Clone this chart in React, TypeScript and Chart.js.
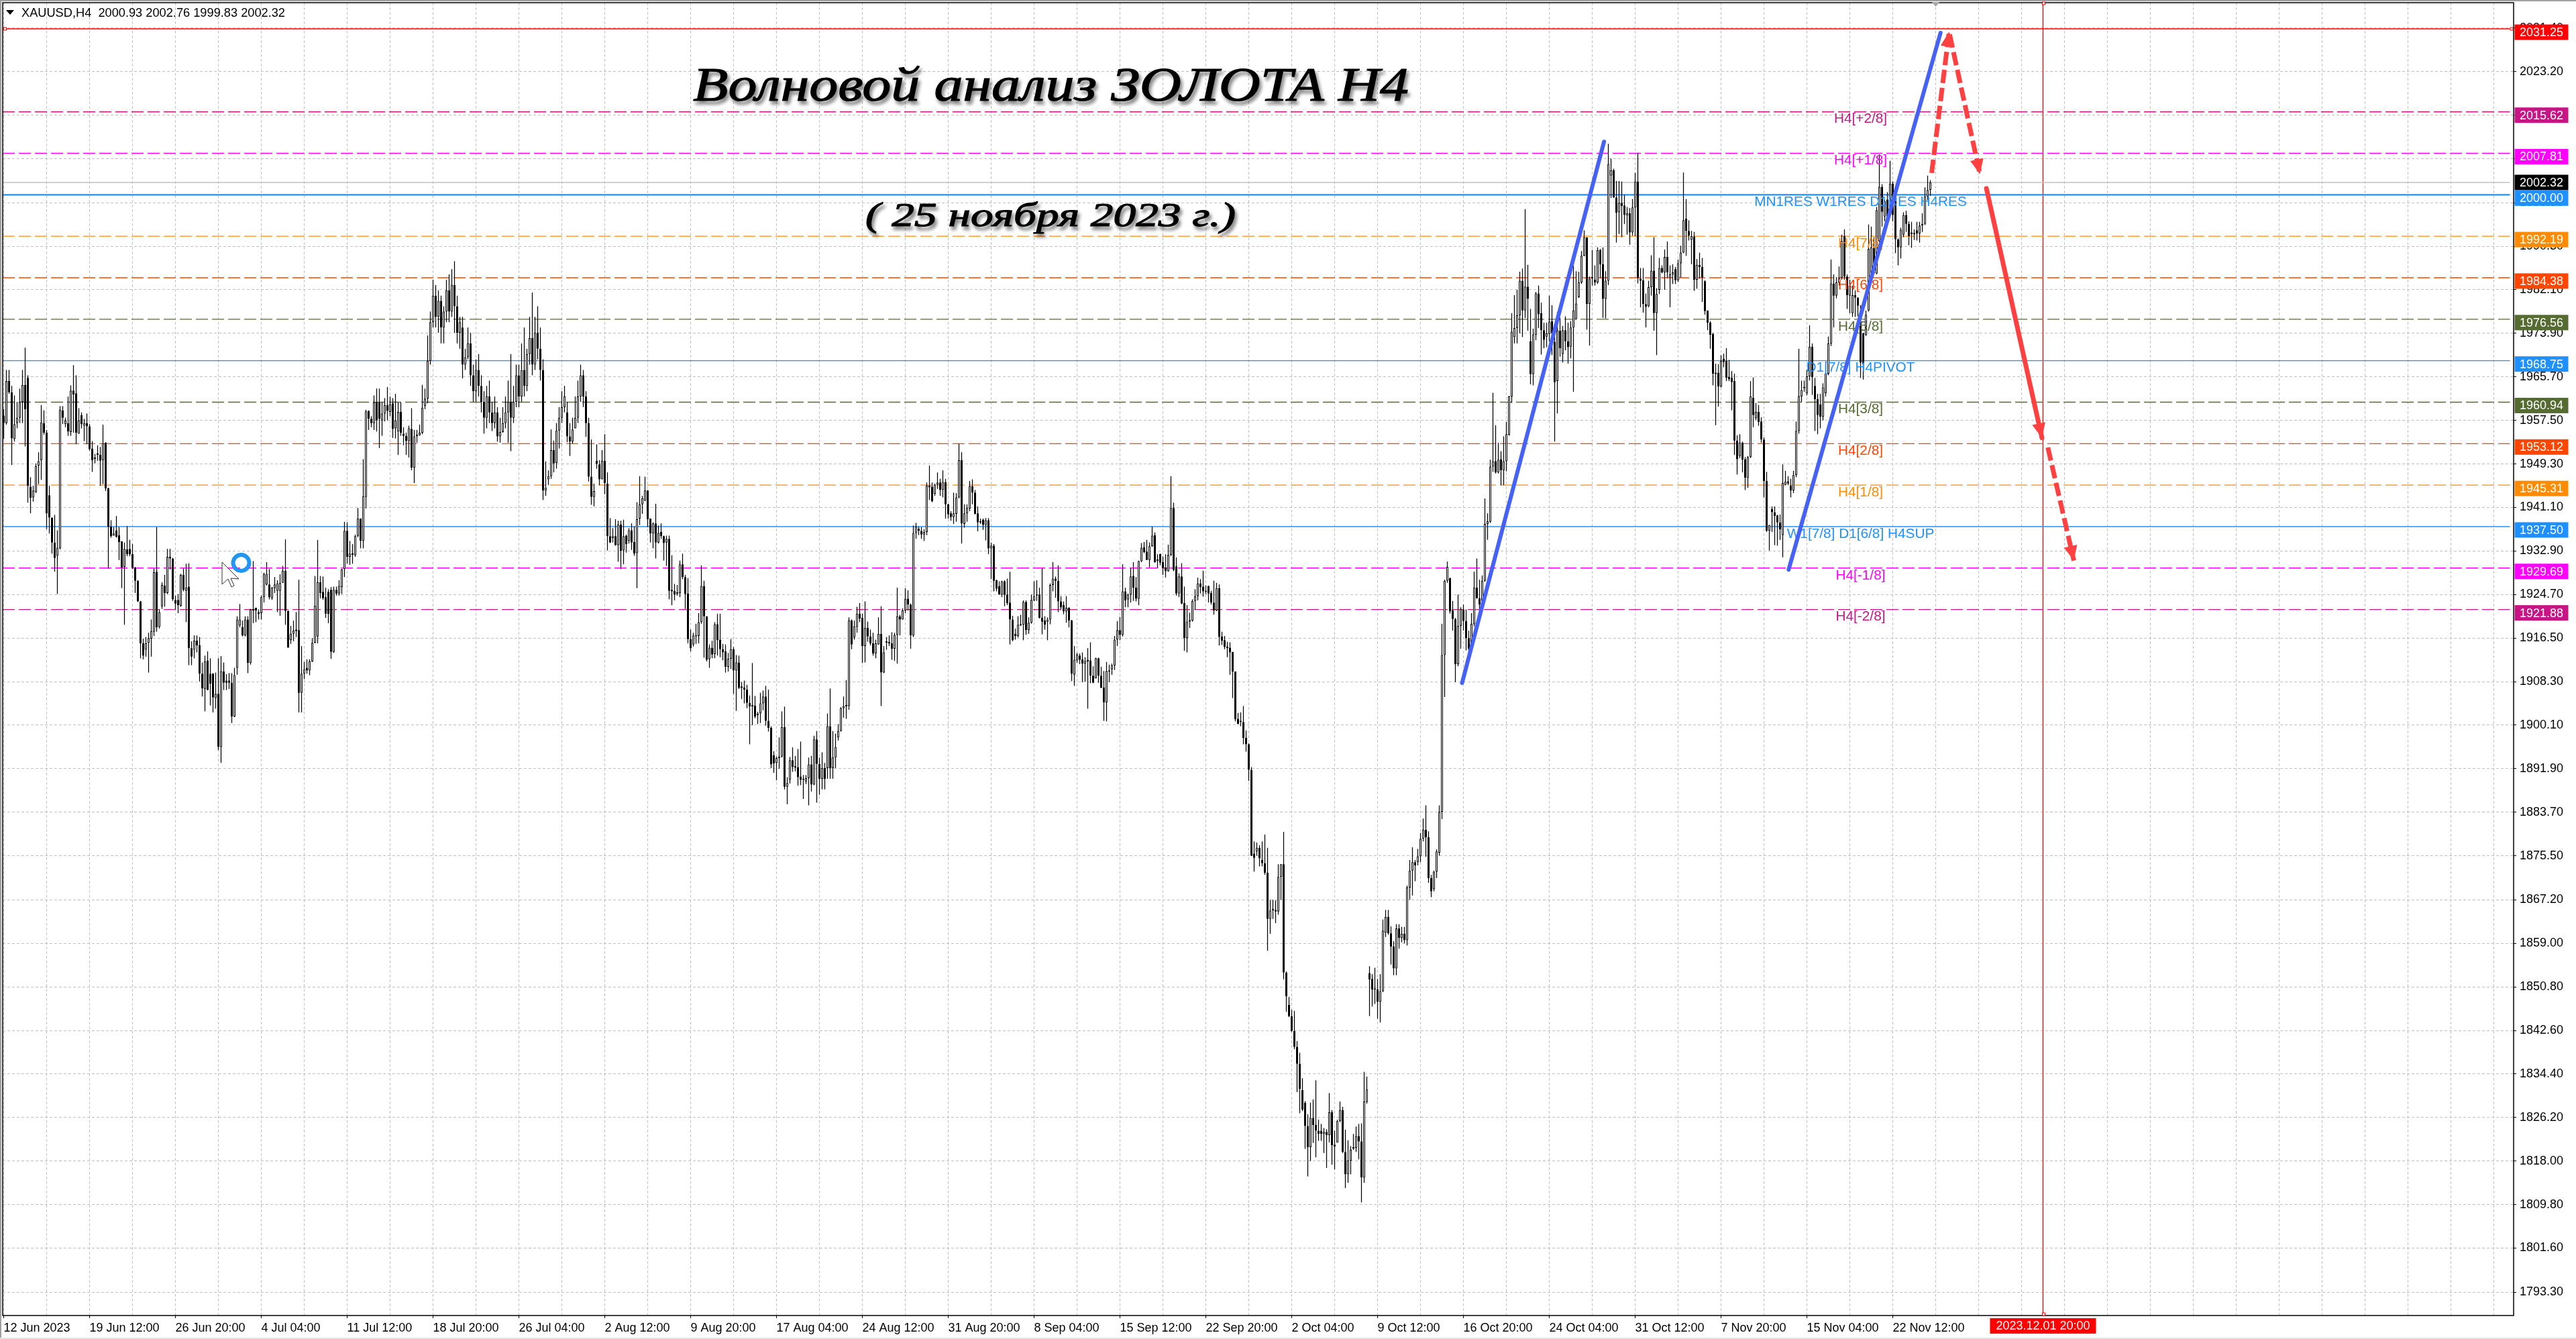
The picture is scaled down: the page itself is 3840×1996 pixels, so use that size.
import React, { useEffect, useRef } from "react";
import { Chart, registerables } from "chart.js";

Chart.register(...registerables);

// every row: [open, close, high, low]; one list per 32 H4 bars, named after the axis date that starts it
const bars12Jun = [[1958.4,1957,1959.6,1954],[1957,1964.9,1967,1956.7],[1964.9,1962.8,1967,1962.5],[1962.8,1954.1,1964,1949.1],[1954,1956.8,1962.2,1953.5],[1957,1958,1961,1956],[1958,1961,1963.5,1957],[1961,1964.2,1967,1957],[1964.2,1959.6,1971.2,1952.6],[1965.5,1945.2,1966,1942],[1945,1942.9,1946.8,1940],[1943,1944.3,1945.2,1942.2],[1944,1948.9,1949.4,1943.8],[1949,1949.8,1951.5,1945.5],[1950,1957.1,1960.4,1946.3],[1957,1955.2,1959.4,1954.8],[1955.2,1940,1955.7,1937],[1943.4,1939.2,1945.2,1936.2],[1939.2,1934.5,1939.2,1932.4],[1934.5,1931.6,1939.7,1929],[1932,1933.5,1936.8,1924.8],[1933.4,1959.5,1960.2,1933.2],[1959.4,1958,1960.2,1956.8],[1956.8,1957.5,1958,1956.2],[1957,1955.4,1962,1954.6],[1955.3,1963.1,1964.1,1954.6],[1963.1,1962.4,1967.9,1955.2],[1962.6,1955.2,1966,1953],[1955,1957.5,1959.8,1955],[1958.5,1956.8,1959,1956],[1956.5,1957,1957.8,1953.6],[1957,1956.4,1958.8,1953]];
const bars19Jun = [[1956.4,1952.1,1956.8,1951.8],[1952.2,1950,1953.6,1947.8],[1950.2,1950.5,1951.2,1949.4],[1951.3,1951,1952.8,1949.9],[1951,1949.9,1952.5,1945.2],[1950,1953.2,1956.7,1945.5],[1953.3,1944.7,1953.4,1944.2],[1944.7,1937.5,1944.8,1929.6],[1937.5,1935.7,1938.7,1935.4],[1935.8,1936.2,1937.4,1935.8],[1936.8,1935.6,1939.5,1935.4],[1935.9,1934.6,1937.4,1931.2],[1934.7,1929.8,1934.7,1925.9],[1929.9,1933.3,1934.5,1919],[1933.2,1932.3,1937.6,1931.9],[1933.3,1932.3,1935,1931.9],[1932.3,1929.8,1934.2,1929.5],[1929.8,1927.3,1929.9,1925],[1927.3,1923.4,1927.4,1923.3],[1923.4,1915.5,1923.5,1912.7],[1915.5,1913.2,1916.4,1912.5],[1914.3,1915.5,1916.7,1913],[1915.6,1916.5,1917.5,1910],[1916.4,1917.8,1920,1913],[1917.7,1928.9,1929.6,1916.9],[1929,1918.5,1937.4,1917.7],[1918.6,1921.4,1921.9,1918.3],[1922.5,1926.5,1927,1922],[1926.4,1925,1928.4,1922.4],[1925,1931.8,1933.3,1924.8],[1931.8,1931.5,1933.3,1929.4],[1931.5,1923.8,1931.6,1923.5]];
const bars26Jun = [[1923.7,1923,1924.5,1921.9],[1923.7,1922.7,1924.8,1921.2],[1922.6,1928.4,1928.6,1922.4],[1928.4,1925.6,1929.6,1925.3],[1925.4,1926,1930.5,1919.5],[1926.2,1914.6,1930.6,1911.4],[1914.6,1913,1915.9,1911.4],[1914.3,1916,1917,1912.7],[1916,1915.1,1917,1913.8],[1915.2,1909.8,1916.7,1908.3],[1909.8,1907,1911.9,1905.5],[1906.9,1912.1,1913.2,1902.7],[1912.3,1906.7,1914,1906.7],[1909.8,1907.9,1912.7,1903.8],[1909.8,1905.3,1909.9,1902.5],[1905.2,1906,1910,1903.2],[1906,1896,1912.7,1895.4],[1896,1910.2,1913.1,1893],[1910.2,1908.1,1911.9,1906.7],[1908.5,1908.1,1909.7,1906.7],[1908.5,1908.1,1909.9,1906.9],[1908.1,1901.7,1909.9,1900.5],[1901.7,1909.5,1910.9,1901.6],[1910.9,1920,1920.6,1909.6],[1918.9,1920,1922.9,1918.5],[1918.6,1917,1919.8,1916.8],[1917,1920,1920.6,1916.8],[1920,1911.8,1920.6,1909.9],[1911.8,1921.9,1922,1911.5],[1921.9,1921.8,1931,1919.3],[1922.2,1921.7,1922.2,1919.5],[1921.4,1921,1921.9,1920]];
const bars4Jul = [[1921.2,1924.2,1924.5,1920],[1924.2,1928.6,1928.8,1923.2],[1926.6,1928.6,1930.8,1926.4],[1926.6,1924.2,1929.5,1923.8],[1924,1926,1926.1,1923.7],[1925.9,1926.6,1928,1925],[1925.4,1926.8,1927.4,1921.4],[1925.4,1926.9,1928.5,1920.7],[1926.9,1929.2,1930.1,1926.9],[1929.2,1921.6,1935.1,1919],[1921.6,1914.7,1921.7,1914.7],[1916.1,1917.3,1918.8,1915.4],[1917.3,1917.9,1919.8,1915.9],[1918,1917.9,1921.4,1916.7],[1918,1906.2,1927.5,1902.5],[1906.2,1909.8,1915,1902.5],[1909.8,1910.6,1912,1908.8],[1910.9,1910.4,1912.5,1909.8],[1910.4,1912.1,1912.5,1909.5],[1912.1,1915.6,1916.5,1912],[1915.6,1922.6,1928.2,1915.5],[1916.8,1927,1935,1915.5],[1927,1925,1928.2,1924],[1925.2,1924,1928.1,1923.7],[1924.2,1921.1,1926,1920.3],[1925.2,1921,1925.7,1919.3],[1925.6,1913.9,1926.1,1912.6],[1913.9,1925.6,1926.2,1913.7],[1925.6,1924.9,1926.2,1924.5],[1924.9,1926.3,1927.4,1924.5],[1926.1,1929.4,1929.5,1924.8],[1929.5,1936.7,1938.4,1928]];
const bars11Jul = [[1936.7,1931.8,1938.3,1930.5],[1931.8,1932.4,1934.8,1930.3],[1932.4,1932.3,1934.2,1930.5],[1932.1,1935.7,1936,1931.8],[1935.7,1939,1941,1935.5],[1939,1934.8,1939,1933.4],[1934.8,1943.2,1950.2,1933.4],[1943.1,1959.2,1959.5,1940.9],[1959.3,1957.8,1959.4,1955.7],[1957.8,1957,1958.3,1956.2],[1957,1960.9,1962.2,1955.7],[1960.9,1957.5,1963.5,1955.4],[1960.9,1957.8,1963.5,1952.3],[1957.5,1958.8,1960.9,1954.6],[1958.8,1960.4,1961.7,1957.3],[1960.4,1959.3,1963.8,1957.5],[1959.1,1960.5,1962,1958.3],[1960.7,1955.9,1961.7,1954.2],[1956,1957.5,1962.5,1954.1],[1955.4,1959.1,1960.9,1951],[1959.1,1955.2,1960.9,1954.6],[1955,1954.6,1956.2,1952.8],[1954.6,1953.6,1955.2,1951],[1953.6,1956,1956.5,1950.5],[1955.9,1948.6,1959.8,1948.1],[1948.6,1954.5,1955.7,1945.7],[1954.5,1954.8,1955.7,1953.3],[1954.7,1955.2,1956.7,1954.6],[1955.2,1959.9,1964.2,1954.9],[1960.2,1961.6,1963.5,1959.6],[1961.6,1968.7,1973.5,1960.7],[1968.7,1976,1978,1968]];
const bars18Jul = [[1976,1981,1984,1975],[1981,1977,1983,1975],[1977,1980,1982,1974],[1980,1975,1981,1972],[1975,1978,1979,1972],[1978,1982,1984,1976],[1982,1978,1985,1976],[1978,1983,1986,1977],[1983,1979,1987.5,1974],[1979,1974,1981,1972],[1974,1976,1977,1971],[1975,1968,1977,1965.4],[1968,1969.4,1971,1967],[1969.4,1972,1975,1969],[1972,1966,1974,1964],[1966,1963,1968,1961],[1963,1967,1969,1961],[1967,1964,1970,1962],[1964,1961,1966,1959],[1961,1958,1963,1955],[1958,1962,1964,1956],[1962,1959,1965,1957],[1959,1957,1961,1955.5],[1957,1959,1962,1956],[1959,1954.5,1960,1953.5],[1954.5,1955.3,1958,1953.3],[1955.3,1957,1960,1955.2],[1957,1959,1962,1956],[1959,1961,1965,1953.3],[1961,1958,1970,1951.7],[1958,1961,1964,1957],[1961,1966,1968,1960]];
const bars26Jul = [[1966,1962,1968,1960],[1962,1967,1972,1961],[1967,1964,1975,1962],[1964,1970,1971,1963],[1970,1973,1977,1968],[1973,1968,1981.6,1966],[1968,1974,1977,1967],[1974,1971,1979,1969],[1971,1967,1975,1965],[1967,1944.3,1969,1942.5],[1944.3,1944.8,1949.8,1943.3],[1946.4,1947,1948.1,1945.3],[1947,1951.9,1955.8,1946.5],[1951.9,1949.4,1953.7,1947.7],[1949.5,1955.6,1957,1948.4],[1955.6,1958,1960,1952.2],[1958,1960,1963,1957],[1960,1962,1964,1959],[1959,1954.5,1961,1953.4],[1954.5,1953.5,1957,1950.8],[1953.5,1955.8,1958,1953.1],[1956,1958,1962,1956],[1958,1962,1965,1957],[1962,1966,1968,1961],[1966,1962,1967,1960],[1962,1957,1963,1954.4],[1957,1946.9,1958,1946],[1946.9,1943.1,1953.9,1941.6],[1943.1,1944.2,1945.6,1941.3],[1949.9,1949.3,1953,1948.4],[1949.2,1946.4,1950,1945.3],[1946.4,1949.9,1951.9,1946.4]];
const bars2Aug = [[1949.9,1945.7,1954.9,1943.6],[1945.6,1935.7,1947.7,1933],[1935.7,1934.5,1939.1,1934.4],[1935.3,1935.7,1937.2,1934.5],[1935.7,1934,1938.9,1933.9],[1934,1937.9,1938.6,1930.9],[1937.9,1932.9,1938.6,1929.5],[1933,1935.7,1938.8,1930.4],[1935.8,1934.2,1936,1932.6],[1934.8,1936.8,1937.2,1934.3],[1936.8,1934.5,1938.1,1933.1],[1934.6,1932.4,1937.5,1932],[1932.5,1938.9,1942.1,1925.9],[1939,1941.7,1947,1937.8],[1941.7,1942.8,1943.3,1939.9],[1942.4,1944.3,1946.9,1942.3],[1944.3,1938.9,1944.4,1937.4],[1939,1936.2,1939,1934.5],[1936.2,1938.1,1938.3,1933.4],[1938.1,1934.5,1941.8,1931.5],[1934.5,1936.3,1937.7,1934.3],[1936.5,1935.7,1938.1,1935.2],[1935.7,1934.4,1935.8,1931.1],[1934.5,1935.2,1935.8,1930.1],[1935.2,1925.4,1935.8,1923.8],[1925.5,1925.4,1932.1,1922.7],[1925.4,1924.7,1926.7,1923.6],[1924.9,1925,1926.5,1924.5],[1925,1930.4,1931.1,1924.2],[1930.4,1928,1932.4,1927.6],[1928,1924.8,1928.4,1922],[1924.9,1916.3,1927.8,1915.5]];
const bars9Aug = [[1916.3,1914.6,1918.1,1914],[1915.3,1917,1917.5,1914.9],[1917,1916.8,1919.2,1915.4],[1916.9,1919.5,1921.2,1915.5],[1919.5,1926.3,1930.2,1919.2],[1926.3,1920.6,1927.3,1912.8],[1920.6,1912.4,1920.6,1912.1],[1912.5,1914.7,1915.3,1910.9],[1914.7,1913.4,1916,1912.7],[1913.5,1919.1,1919.5,1912.7],[1919.1,1916.1,1921.1,1913.2],[1916.2,1914.4,1921.1,1912.9],[1914.4,1913.8,1915.4,1912.3],[1914,1911.1,1915.3,1910],[1911.1,1912.6,1913.7,1910.2],[1912.6,1914.4,1916.3,1910.7],[1914.4,1910.4,1914.8,1906],[1910.4,1911.9,1913.3,1902.8],[1911.9,1907.1,1913.2,1906.9],[1907.3,1907.2,1908.2,1905],[1907.2,1906.8,1908.5,1904.2],[1906.8,1904.3,1907.7,1903.3],[1904.3,1903.6,1905.7,1896.5],[1903.6,1903.9,1911.8,1900.1],[1903.8,1901.7,1905.6,1901.4],[1902,1902.3,1902.6,1900.3],[1902.3,1904.2,1906.2,1900.5],[1904.2,1905.5,1906.6,1902.9],[1905.5,1900.9,1907.5,1900],[1900.9,1899.6,1906.8,1898.9],[1899.6,1892.7,1899.9,1892],[1894.4,1892.9,1895.2,1891.1]];
const bars17Aug = [[1893,1893.9,1894.2,1889.7],[1893.9,1894.2,1897.8,1891.9],[1894.2,1899.7,1902.7,1894],[1899.7,1888.5,1903.6,1888],[1888.5,1889.2,1890.3,1885.2],[1889.8,1893.5,1894.1,1889.1],[1893.5,1892.2,1895.9,1891.3],[1892.4,1892.1,1894.3,1891.4],[1892.2,1890.3,1895.6,1888.7],[1890.4,1889.8,1897,1888.8],[1889.9,1889.9,1890.7,1886.2],[1889.5,1890.1,1890.7,1889],[1890.1,1892.7,1894,1885],[1892.7,1888.9,1894.3,1887.6],[1888.9,1897.4,1898.1,1888.8],[1897.4,1892.8,1899,1885.5],[1892.8,1890,1894,1887],[1890,1892,1895,1888],[1892,1890,1893,1888],[1892,1899.9,1902.3,1890],[1899.9,1892,1907,1890],[1892,1894,1899,1890],[1894,1896,1898.5,1892],[1897.8,1899,1900.3,1897.2],[1899,1903.3,1903.5,1898.9],[1903.3,1903.7,1905.5,1901.5],[1903.7,1903.8,1908.6,1901.3],[1903.7,1919.8,1920.4,1903],[1919.8,1915.3,1920,1914.4],[1916.6,1918.7,1919.8,1916.2],[1918.6,1921.1,1922.4,1917.5],[1921.1,1920.2,1923.1,1919.5]];
const bars24Aug = [[1920.3,1915,1921.1,1911.8],[1915,1918.4,1923.4,1911.9],[1918.4,1916.8,1919.6,1915.8],[1916.8,1915.5,1918.1,1915.1],[1915.5,1913.6,1917.5,1913.2],[1913.6,1915.5,1916.2,1912.7],[1915.3,1917.3,1920.4,1915.3],[1917.3,1910,1922.5,1903.7],[1910,1913.8,1915,1909.9],[1915.7,1915.8,1916.7,1914.3],[1915.8,1915.5,1917,1915],[1915.5,1914.5,1917.6,1912.4],[1914.5,1917.1,1917.5,1912.2],[1917.1,1920.6,1926,1911.7],[1920.6,1920,1920.9,1917],[1920,1921.7,1922.1,1920],[1921.7,1923.9,1925.9,1921.2],[1923.9,1922.8,1925.5,1921.7],[1922.8,1917,1923,1914.5],[1917,1936.3,1937.7,1916.7],[1936.3,1937.5,1938.2,1935.2],[1937.1,1936.7,1937.5,1935.9],[1936.7,1936,1937.4,1935.2],[1936,1936.5,1937,1934.8],[1936.5,1945.2,1945.8,1935.9],[1945.2,1944.9,1949,1942.5],[1945,1942.3,1945.8,1942.1],[1943.7,1945.4,1945.6,1943.3],[1945.4,1945.8,1947.7,1944.6],[1945.8,1944.4,1946.5,1943.3],[1944.4,1945.9,1948.1,1943],[1945.9,1941.7,1946.5,1939]];
const bars31Aug = [[1941.7,1939.8,1941.8,1939],[1940,1939.3,1940.4,1938.6],[1939.3,1940,1943.9,1938],[1939.9,1943,1943.8,1938.4],[1943,1950,1953.1,1942.8],[1950,1938.1,1951.5,1934.3],[1938,1940,1941.7,1937.3],[1940,1941,1941.7,1938.4],[1940.9,1945.1,1946.1,1940.4],[1945.1,1943.9,1946.4,1941.7],[1943.9,1939.9,1944.4,1939.8],[1940,1938.3,1941.3,1936.6],[1938.4,1938.4,1939,1938],[1938.8,1937.8,1939,1936.9],[1937.8,1938.7,1939.1,1934.9],[1938.7,1933.4,1939.1,1932.3],[1933.4,1933.9,1934.5,1927.6],[1933.9,1927.3,1934.2,1925.3],[1927.4,1925.8,1927.5,1925.3],[1926.3,1924.7,1927.2,1924.7],[1924.7,1927.2,1927.3,1924.2],[1927.2,1924.6,1927.4,1922.5],[1924.7,1923.1,1927.7,1922.7],[1923.2,1920,1929,1915.3],[1920,1916.1,1920.7,1915.9],[1917.3,1916.9,1918.3,1916.2],[1916.9,1919,1920.6,1916.6],[1919,1919,1920.9,1918.8],[1919,1923.3,1923.6,1916.1],[1923.3,1918,1923.6,1917.1],[1918,1919.4,1920.4,1917.3],[1919.4,1923.7,1924.7,1919.2]];
const bars8Sep = [[1923.6,1924.4,1927.2,1923.5],[1924.6,1924.6,1927.4,1923.5],[1924.7,1920.3,1926,1920.2],[1920.3,1919.6,1929.7,1917.2],[1919.8,1919,1920.6,1918.1],[1919.6,1920,1920.4,1916.1],[1920,1926.5,1926.8,1919.1],[1926.5,1927.7,1930.8,1925.3],[1927.7,1927.3,1928.1,1924.1],[1927.3,1923.4,1930.2,1921.4],[1923.4,1922.3,1924.4,1921.9],[1922.7,1921.5,1923.4,1921],[1921.5,1922.2,1924.4,1919.4],[1922.2,1919.8,1922.3,1918.5],[1919.8,1909.8,1919.9,1908.4],[1909.6,1912.4,1915,1907.5],[1912.3,1913.4,1913.7,1911.8],[1913.2,1912.4,1913.6,1911.6],[1912.5,1911.7,1913.8,1908.2],[1911.7,1912.2,1912.9,1908.3],[1912.3,1912.2,1914.6,1903.2],[1912.3,1909.4,1915.7,1908],[1909.4,1908.1,1911.2,1908],[1908.9,1912.7,1912.8,1908.9],[1912.7,1909.4,1912.8,1908.1],[1909.4,1907.1,1911.1,1907.1],[1907.2,1904.4,1910.3,1900.9],[1904.4,1910.3,1912,1900.8],[1910.3,1910.3,1911.5,1908.2],[1910.6,1911.4,1911.7,1909.6],[1911.3,1916.2,1916.9,1910.5],[1916.2,1918,1919.7,1915]];
const bars15Sep = [[1918,1917.1,1920.5,1916.1],[1917.1,1925.3,1930.4,1916.8],[1925.3,1923.6,1926,1922.3],[1923.8,1924.7,1924.9,1922.3],[1924.7,1928.1,1929.7,1923.2],[1928.2,1926,1930.8,1923.5],[1926,1923.9,1928,1923.4],[1923.9,1931,1931.1,1922.7],[1931,1933.5,1934.4,1930.8],[1933.6,1932.7,1934.6,1932.5],[1932.8,1931.2,1935,1931.2],[1931.2,1933.8,1934.5,1929.8],[1933.8,1935.8,1937.5,1933.7],[1935.9,1930.8,1936.4,1930.7],[1931,1931.3,1932.3,1929.7],[1932.3,1930.7,1932.4,1930.2],[1930.8,1929.7,1931.9,1928.4],[1929.8,1929.1,1932.3,1927.9],[1929.1,1932.2,1934.1,1929],[1932.2,1941,1947,1931.9],[1941,1929.3,1942,1929.1],[1930,1924.9,1931.7,1924.5],[1924.9,1928.1,1928.7,1924.2],[1928.1,1923,1930.6,1922.9],[1923.1,1916.5,1926.2,1914.1],[1916.5,1919.6,1922.7,1913.8],[1919.6,1919.9,1921.3,1918.4],[1919.8,1923.5,1923.8,1919.6],[1923.5,1924.4,1925.7,1921.9],[1924.4,1926.8,1927.9,1923.6],[1926.8,1926.1,1927.6,1924.9],[1926.2,1925.3,1929.2,1924.3]];
const bars22Sep = [[1925.4,1925.2,1926.4,1924.8],[1926.3,1924.9,1926.4,1923.2],[1925,1923.2,1925.4,1922.8],[1923.2,1921.7,1927.3,1920.9],[1921.7,1925.9,1926.9,1921.6],[1925.9,1916.7,1926.6,1915.1],[1916.8,1916,1917.7,1915.2],[1916.1,1914.8,1916.9,1914.4],[1914.9,1914.6,1915.8,1912.9],[1914.7,1913.8,1915.7,1909.6],[1913.9,1910.2,1913.9,1905.2],[1910.2,1901.2,1910.2,1900.8],[1901.3,1900.3,1902.4,1900.3],[1900.9,1900.7,1902.5,1899.9],[1900.7,1897.7,1903.7,1896.5],[1897.7,1896.5,1899.1,1895.1],[1896.5,1891.7,1896.7,1889.6],[1891.7,1875.5,1892.2,1875.5],[1875.9,1875.1,1878.2,1872.5],[1876.3,1877,1878,1875.5],[1877,1875,1877.5,1873.5],[1874.7,1874.1,1878.2,1873.5],[1874.1,1872.3,1879.5,1871.9],[1872.3,1863.6,1877,1857.6],[1863.6,1865.2,1867.2,1860.8],[1865.2,1865.5,1867.2,1863.6],[1865.3,1865,1867.1,1862.8],[1865,1871.5,1873.9,1864.4],[1871.5,1873.9,1873.9,1867.2],[1873.9,1853.5,1880,1852.2],[1853.5,1849,1853.7,1846.1],[1847.4,1845.3,1848.9,1845.1]];
const bars2Oct = [[1845.3,1842.5,1846.5,1842.3],[1842.5,1839.5,1846.3,1839.1],[1839.5,1836.3,1840.6,1831],[1836.3,1831.6,1838.4,1827],[1831.4,1827.7,1833.6,1827.4],[1829,1824.6,1829.3,1820.3],[1824.6,1820.6,1826.8,1815.1],[1820.6,1826.1,1829,1818],[1826.1,1824.8,1829.6,1821.4],[1824.8,1823.7,1833.2,1818.7],[1823.7,1823.1,1825.8,1821.8],[1823.7,1823.1,1825,1821.8],[1823.1,1823.5,1824.2,1819.5],[1823.5,1822.9,1824,1816.7],[1822.9,1827.2,1830.8,1821.5],[1827.2,1821,1827.6,1817.3],[1821.1,1820.7,1823.7,1816.4],[1821.5,1825.5,1825.8,1821.5],[1825.5,1827.6,1829.2,1825.3],[1827.6,1819.7,1828.2,1819.5],[1819.7,1815.5,1823.9,1812.9],[1815.5,1818.1,1821.9,1813.9],[1818.1,1820.1,1820.8,1815.5],[1820.4,1820.5,1823.1,1820.1],[1820.5,1822.7,1824.5,1819.7],[1822.7,1821.7,1825,1818.3],[1821.7,1814.9,1825.1,1810.2],[1814.9,1829.2,1834.8,1813.9],[1829.1,1831.5,1833.9,1828.8],[1853.4,1852.2,1854.7,1845.3],[1852.3,1850.3,1853.2,1847.1],[1850.4,1850.4,1854.4,1847.6]];
const bars9Oct = [[1850.3,1848,1852.3,1844.8],[1848,1850,1853.2,1844.1],[1850,1861.4,1863.5,1849.8],[1861,1864,1865.3,1860.2],[1864,1860.9,1865.3,1860.6],[1860.9,1858.4,1862.2,1855],[1858.4,1854.3,1859.4,1853],[1854.3,1861.8,1862.6,1853],[1861.8,1860,1862.6,1858],[1860,1860.8,1862.1,1859.2],[1860.8,1859.6,1862.1,1859],[1859.6,1869.5,1869.9,1858.6],[1869.5,1872.7,1874.7,1867.2],[1872.7,1874.3,1877.1,1868],[1874.3,1873.7,1874.7,1870.7],[1874.3,1875.4,1876.8,1873.7],[1875.4,1878.7,1879.8,1874.3],[1878.7,1880.4,1882.5,1878.2],[1880.4,1879,1885,1875.3],[1879,1871.3,1880.1,1870.4],[1871.3,1868.8,1871.9,1867.7],[1869.2,1872.5,1872.7,1868.8],[1872.5,1876.3,1876.7,1871.3],[1876.1,1883.8,1885,1875.5],[1883.8,1913.3,1919.2,1882.4],[1913.3,1927.3,1927.5,1905.4],[1927.3,1929.9,1930.9,1926.9],[1927.8,1921.5,1927.9,1921.1],[1921.7,1920.1,1923.5,1917.9],[1920.1,1911.6,1920.3,1908.2],[1911.6,1918.8,1924.7,1911.2],[1918.8,1922,1922.3,1914.5]];
const bars16Oct = [[1921.9,1919.7,1922.8,1917.9],[1919.7,1916.5,1921.9,1914.2],[1916.5,1914.5,1917.9,1913],[1914.5,1919.2,1921.2,1914],[1919.1,1926,1929,1918.7],[1926,1924,1931.5,1923.9],[1924,1922.8,1927.5,1921.1],[1923.5,1927.3,1928.3,1922.8],[1927.3,1938,1942.8,1927.1],[1938,1938.5,1940,1935],[1938.4,1948.8,1950.1,1938.2],[1948.8,1949.8,1962.7,1947.8],[1949.8,1947.7,1956.6,1947.5],[1947.7,1950.1,1953.3,1947.5],[1950.2,1948.1,1951.7,1945.3],[1948.1,1949.8,1954.5,1945.3],[1949.8,1954.9,1957.2,1947.9],[1954.8,1962,1962.1,1954.6],[1962,1974.2,1977.7,1960.8],[1973.2,1974.9,1981.1,1972],[1974.9,1977.3,1982.1,1972],[1977.3,1983.8,1985.5,1973.9],[1983.8,1978.2,1986.1,1973.2],[1978.2,1982.7,1997.3,1976.8],[1982.7,1980.4,1986.8,1974.4],[1972.4,1966.2,1978.5,1964.3],[1966.2,1973.7,1974.8,1964.1],[1973.6,1981.4,1981.7,1972.6],[1981.4,1977.5,1982.9,1974.9],[1977.7,1974.5,1979.7,1969.9],[1974.5,1972.7,1975.9,1971.1],[1973.3,1973.9,1975.9,1971.3]];
const bars24Oct = [[1973.8,1976.1,1981,1972.4],[1976.2,1973.9,1979.2,1969.8],[1972.3,1964.7,1973.3,1953.5],[1964.9,1974.5,1977.9,1958.8],[1974.4,1971.1,1976.8,1969.5],[1970,1974.5,1975.3,1968.4],[1974.5,1972.4,1977.1,1970.7],[1972.4,1971.3,1975.9,1968.2],[1971.4,1975,1976.2,1969.2],[1975,1978.2,1986.7,1962.9],[1976.6,1979.5,1985.6,1976.5],[1980.7,1983.5,1985.5,1980.6],[1983.5,1988.5,1989.4,1983.2],[1988.5,1992,1993.3,1988.4],[1992,1979.4,1992,1974.6],[1979.4,1984.2,1984.6,1971.6],[1984.2,1984.5,1989.6,1982.9],[1984,1983.5,1986.7,1982.9],[1983.5,1989.6,1990.1,1983.2],[1989.6,1986.9,1989.8,1984.3],[1986.9,1980.4,1990.1,1976.8],[1980.4,1983.8,1985.6,1976.7],[1983.8,2005.8,2009.6,1983],[2003.6,2004.6,2006.8,1999.4],[2004.6,1999.5,2004.9,1999.4],[1999.5,1996.6,2002.6,1991],[1996.7,1998.5,2002.6,1992.6],[1998.5,1997.9,2002.5,1992],[1998,1996.2,2000,1994.5],[1996.1,1996.5,1997.7,1992.5],[1996.5,1992.9,1997.5,1990.6],[1992.9,1997.6,1999.2,1992.3]];
const bars31Oct = [[1997.6,2002.5,2004.1,1992.2],[2002.5,1984.3,2007.9,1983.3],[1984.2,1983.8,1986.2,1978.8],[1983.9,1979.4,1986.2,1977.8],[1979.4,1978.9,1981.4,1975],[1979,1982.6,1983.8,1978.8],[1982.6,1985.7,1988.6,1981],[1985.7,1977.7,1992,1974.4],[1977.7,1981.3,1982.4,1969.8],[1982.1,1986.2,1988.1,1981.3],[1986.2,1985.4,1986.7,1985.2],[1985.4,1988.3,1989.7,1982.1],[1988.3,1985.4,1991.2,1984.3],[1984.3,1985,1986.7,1978.8],[1985,1985.4,1986.9,1983.2],[1986,1983.9,1986.4,1983.2],[1983.9,1987.1,1987.8,1983.6],[1987.1,1989.1,1990.4,1984.4],[1989.1,1995.2,2004.2,1989],[1995.5,1993.2,1999.2,1988.5],[1993.2,1992.3,1995.2,1991.4],[1991.5,1992.2,1993.2,1986.9],[1992.1,1984,1993,1981.9],[1984,1986.8,1987.9,1982.3],[1986.8,1986.4,1989.1,1984.2],[1986.4,1984.4,1988.1,1979.8],[1983.7,1978.1,1983.9,1977.4],[1978.2,1975.9,1978.2,1974.5],[1975.9,1973.6,1976.2,1971],[1973.8,1966.3,1974,1964.1],[1966.2,1966.5,1968.2,1956.6],[1966.5,1963.9,1968.1,1960.1]];
const bars7Nov = [[1963.9,1968.7,1969.8,1963.7],[1969.1,1968.5,1970.1,1967.5],[1968.7,1965.5,1971.1,1964.9],[1965.6,1965.4,1968.9,1964.9],[1965.5,1964.7,1966.8,1959.4],[1964.9,1953.7,1966.3,1951],[1953.7,1950.2,1954.7,1947.3],[1950.8,1953.3,1954.9,1950.4],[1953.3,1950.1,1953.5,1947.7],[1950.2,1946.7,1950.6,1944.4],[1946.7,1950.6,1950.8,1944.8],[1950.6,1962,1964.9,1950.4],[1961.8,1958.5,1965.6,1956.2],[1957.9,1959.1,1960.8,1957.6],[1959.1,1957.2,1960.4,1956.5],[1957.3,1953.9,1958.1,1953.3],[1953.9,1946.1,1954.3,1943],[1946.1,1936.7,1947.8,1936.5],[1936.7,1937.8,1937.8,1933],[1940.8,1940.2,1941.3,1936.5],[1940.2,1939.5,1941.3,1934],[1939.6,1938.3,1939.7,1933.9],[1938.3,1937,1939.8,1935],[1935.9,1945.7,1949.2,1931.7],[1945.4,1946,1948,1945.3],[1946,1945.6,1947,1945.3],[1945.2,1944.3,1946.5,1943],[1944.3,1947.2,1948,1943.8],[1947.2,1955.5,1957.3,1946.8],[1955.5,1962.1,1971,1955],[1962,1963.2,1965,1961],[1963.7,1963.7,1965,1962.9]];
const bars15Nov = [[1962.6,1965.8,1967,1962.2],[1965.8,1971.4,1975.4,1965],[1971.4,1965.6,1972,1962.3],[1964,1961.5,1965.5,1955.5],[1961.5,1958.5,1962.5,1954.9],[1960.5,1958.2,1962.5,1956],[1958.2,1963.7,1964.5,1957.5],[1962.6,1966.3,1966.5,1962],[1966.3,1972,1973.3,1966],[1972,1983.3,1987.8,1971.5],[1983.3,1981,1985,1975],[1981,1983.5,1984.5,1980.5],[1983.5,1984.3,1986.5,1982.9],[1984.3,1991.3,1992.5,1984],[1992.2,1984.6,1993.5,1984],[1984.6,1981.1,1985,1978.5],[1981,1982.9,1984,1977.7],[1977.7,1981.1,1982.9,1977],[1981.1,1980.6,1982,1977],[1980.6,1979.1,1980.7,1977.1],[1975.3,1968.4,1979.2,1965.5],[1973.9,1968.1,1974,1965.2],[1973.6,1977.4,1978.2,1973.4],[1978.2,1989.8,1994.4,1978],[1985.2,1990.1,1994,1985],[1990,1985.2,1992,1985],[1985.2,1997.1,1997.7,1985],[1991.3,2001.5,2007.6,1991],[2001.5,1996.8,2002,1994],[1995.9,1998.8,1999,1995],[1999.1,1995.9,2000.5,1995.5],[1997.7,2002.1,2006.4,1996]];
const bars22Nov = [[2002.1,1996.2,2002.5,1995],[2000.3,1991.6,2001,1989],[1991.6,1990.1,1991.8,1986.7],[1990.1,1993.4,1993.8,1988],[1992.5,1996.2,1996.7,1992],[1996.2,1994.5,1997,1993],[1994.5,1992.2,1995,1990.5],[1992.8,1992.7,1994.9,1990],[1992.7,1992.7,1993.5,1991.5],[1993.3,1992.7,1994.9,1991.4],[1992.7,1994.2,1994.9,1991],[1994.2,1994.5,1996.5,1993],[1994.5,1999.7,2001.4,1994.3],[1999.7,2000.9,2003.6,1999],[2000.93,2002.32,2002.76,1999.83]];

const allBars = [bars12Jun, bars19Jun, bars26Jun, bars4Jul, bars11Jul, bars18Jul, bars26Jul, bars2Aug, bars9Aug, bars17Aug, bars24Aug, bars31Aug, bars8Sep, bars15Sep, bars22Sep, bars2Oct, bars9Oct, bars16Oct, bars24Oct, bars31Oct, bars7Nov, bars15Nov, bars22Nov].flat();

const dateLabels = ["12 Jun 2023","19 Jun 12:00","26 Jun 20:00","4 Jul 04:00","11 Jul 12:00","18 Jul 20:00","26 Jul 04:00","2 Aug 12:00","9 Aug 20:00","17 Aug 04:00","24 Aug 12:00","31 Aug 20:00","8 Sep 04:00","15 Sep 12:00","22 Sep 20:00","2 Oct 04:00","9 Oct 12:00","16 Oct 20:00","24 Oct 04:00","31 Oct 12:00","7 Nov 20:00","15 Nov 04:00","22 Nov 12:00"];
const priceTicks = [2031.4,2023.2,2015,2006.8,1998.5,1990.3,1982.1,1973.9,1965.7,1957.5,1949.3,1941.1,1932.9,1924.7,1916.5,1908.3,1900.1,1891.9,1883.7,1875.5,1867.2,1859,1850.8,1842.6,1834.4,1826.2,1818,1809.8,1801.6,1793.3];

const levelValues = [2031.25,2015.62,2007.81,2002.32,2000,1992.19,1984.38,1976.56,1968.75,1960.94,1953.12,1945.31,1937.5,1929.69,1921.88];
const levelColors = ["#ff0000","#c71585","#ff00ff","#000000","#1e90ff","#ff8c00","#ff4500","#556b2f","#1e90ff","#556b2f","#ff4500","#ff8c00","#1e90ff","#ff00ff","#c71585"];
const levelLabels = ["","H4[+2/8]","H4[+1/8]","","MN1RES W1RES D1RES H4RES","H4[7/8]","H4[6/8]","H4[5/8]","D1[7/8] H4PIVOT","H4[3/8]","H4[2/8]","H4[1/8]","W1[7/8] D1[6/8] H4SUP","H4[-1/8]","H4[-2/8]"];

const waveUpA = [{x:543.5,y:1908.05},{x:596.4,y:2010}];
const waveUpB = [{x:665.2,y:1929.4},{x:721.8,y:2030.5}];
const forecastUp = [{x:718.5,y:2004.1},{x:725,y:2030.7}];
const forecastDownA = [{x:725.2,y:2030.2},{x:736.5,y:2003.9}];
const forecastDownB = [{x:738.9,y:2001.2},{x:759.6,y:1954.2}];
const forecastDownC = [{x:761.8,y:1952.4},{x:771.5,y:1931.1}];
const futureIndex = 760;
const futureLabel = "2023.12.01 20:00";

const FONT = '"Liberation Sans", Arial, sans-serif';
const TITLE_FONT = '"Liberation Serif", serif';
const RED = "#ff4040";
const BLUE = "#4562f5";
const X_MIN = -0.375;
const X_MAX = 935.375;

const overlay = {
  id: "overlay",
  beforeDraw(chart: any) {
    const { ctx, width, height } = chart;
    ctx.save();
    ctx.fillStyle = "#ffffff";
    ctx.fillRect(0, 0, width, height);
    ctx.fillStyle = "#a0a0a0";
    ctx.fillRect(0, 0, width, 2);
    ctx.fillRect(0, 0, 2, height);
    ctx.fillStyle = "#e4e4e4";
    ctx.fillRect(0, height - 2, width, 2);
    ctx.restore();
  },
  afterDatasetDraw(chart: any, args: any) {
    if (args.meta.label !== "bodies") return;
    const { ctx, scales } = chart;
    const cx = scales.x.getPixelForValue(692);
    ctx.save();
    ctx.font = `20.8px ${FONT}`;
    ctx.textAlign = "center";
    ctx.textBaseline = "middle";
    levelLabels.forEach((t, i) => {
      if (!t) return;
      ctx.fillStyle = levelColors[i];
      ctx.fillText(t, cx, scales.y.getPixelForValue(levelValues[i]) + 11);
    });
    ctx.restore();

    const handwritten = (text: string, size: number, x: number, y: number, w: number) => {
      ctx.save();
      ctx.fillStyle = "#000";
      ctx.strokeStyle = "#000";
      ctx.lineWidth = 1.2;
      ctx.shadowColor = "rgba(0,0,0,0.45)";
      ctx.shadowOffsetX = 3;
      ctx.shadowOffsetY = 5;
      ctx.shadowBlur = 5;
      ctx.textAlign = "left";
      ctx.textBaseline = "alphabetic";
      ctx.font = `italic ${size}px ${TITLE_FONT}`;
      const natural = ctx.measureText(text).width;
      ctx.translate(x, y);
      ctx.scale(w / natural, 1);
      ctx.fillText(text, 0, 0);
      ctx.strokeText(text, 0, 0);
      ctx.restore();
    };
    handwritten("Волновой анализ ЗОЛОТА H4", 72, 1033, 150, 1067);
    handwritten("( 25 ноября 2023 г.)", 50, 1290, 337, 552);
  },
  afterDraw(chart: any) {
    const { ctx, scales, chartArea: a } = chart;
    ctx.save();
    // plot frame
    ctx.strokeStyle = "#000";
    ctx.lineWidth = 1.5;
    ctx.strokeRect(a.left, a.top, a.right - a.left, a.bottom - a.top);

    // arrow heads at the end of the forecast strokes
    const head = (pts: any[]) => {
      const p0 = pts[0], p1 = pts[1];
      const x0 = scales.x.getPixelForValue(p0.x), y0 = scales.y.getPixelForValue(p0.y);
      const x1 = scales.x.getPixelForValue(p1.x), y1 = scales.y.getPixelForValue(p1.y);
      const ang = Math.atan2(y1 - y0, x1 - x0);
      const len = 22, half = 10;
      const bx = x1 - Math.cos(ang) * len, by = y1 - Math.sin(ang) * len;
      ctx.fillStyle = RED;
      ctx.beginPath();
      ctx.moveTo(x1, y1);
      ctx.lineTo(bx - Math.sin(ang) * half, by + Math.cos(ang) * half);
      ctx.lineTo(bx + Math.sin(ang) * half, by - Math.cos(ang) * half);
      ctx.closePath();
      ctx.fill();
    };
    [forecastUp, forecastDownA, forecastDownB, forecastDownC].forEach(head);

    // end handles of the drawn objects
    const square = (x: number, y: number, c: string) => {
      ctx.fillStyle = "#fff";
      ctx.strokeStyle = c;
      ctx.lineWidth = 1;
      ctx.fillRect(x - 2, y - 2, 4, 4);
      ctx.strokeRect(x - 2, y - 2, 4, 4);
    };
    const redY = scales.y.getPixelForValue(levelValues[0]);
    square(7.5, redY, "#ff0000");
    square(a.right - 3, redY, "#ff0000");
    const fx = Math.round(scales.x.getPixelForValue(futureIndex)) + 0.5;
    square(fx, a.bottom - 2, "#ff0000");
    square(fx, a.top + 1, "#ff0000");

    // small marker at the last bar on the top edge
    const lx = scales.x.getPixelForValue(720);
    ctx.fillStyle = "#a8a8a8";
    ctx.beginPath();
    ctx.moveTo(lx - 6, 3);
    ctx.lineTo(lx + 6, 3);
    ctx.lineTo(lx, 10);
    ctx.closePath();
    ctx.fill();

    // price tags
    ctx.font = `18px ${FONT}`;
    ctx.textAlign = "left";
    ctx.textBaseline = "middle";
    levelValues.forEach((v, i) => {
      const y = scales.y.getPixelForValue(v);
      const cy = levelColors[i] === "#000000" ? y : y + 5;
      ctx.fillStyle = levelColors[i];
      ctx.fillRect(3748.5, cy - 11.5, 80, 23);
      ctx.fillStyle = "#fff";
      ctx.fillText(v.toFixed(2), 3756, cy + 1, 66);
    });

    // date tag of the vertical line
    ctx.fillStyle = "#ff0000";
    ctx.fillRect(fx - 80, 1965, 158, 23);
    ctx.fillStyle = "#fff";
    ctx.textAlign = "center";
    ctx.fillText(futureLabel, fx - 1, 1977, 146);

    // header
    ctx.fillStyle = "#000";
    ctx.beginPath();
    ctx.moveTo(9, 15);
    ctx.lineTo(21, 15);
    ctx.lineTo(15, 22);
    ctx.closePath();
    ctx.fill();
    ctx.textAlign = "left";
    ctx.font = `19px ${FONT}`;
    ctx.fillText("XAUUSD,H4  2000.93 2002.76 1999.83 2002.32", 32, 20, 393);

    // mouse pointer and click ring from the screen recording
    ctx.strokeStyle = "#2196f3";
    ctx.lineWidth = 6;
    ctx.beginPath();
    ctx.arc(359.5, 839, 12, 0, Math.PI * 2);
    ctx.stroke();
    ctx.fillStyle = "#fff";
    ctx.strokeStyle = "#333";
    ctx.lineWidth = 1;
    ctx.beginPath();
    ctx.moveTo(331, 838);
    ctx.lineTo(331, 871);
    ctx.lineTo(340, 863);
    ctx.lineTo(345, 875);
    ctx.lineTo(349, 873);
    ctx.lineTo(344, 862);
    ctx.lineTo(356, 863);
    ctx.closePath();
    ctx.fill();
    ctx.stroke();
    ctx.restore();
  },
};

export default function App() {
  const ref = useRef<HTMLCanvasElement | null>(null);

  useEffect(() => {
    document.body.style.margin = "0";
    const canvas = ref.current!;
    const thinLine = (v: number, i: number) => {
      const solid = levelColors[i] === "#1e90ff" || i === 0 || i === 3;
      return {
        type: "line",
        label: `level${i}`,
        order: 5,
        data: [{ x: i === 0 ? 1 : -0.375, y: v }, { x: 934, y: v }],
        borderColor: i === 3 ? "#c0c0c0" : levelColors[i],
        borderWidth: i === 4 ? 2.2 : 1.4,
        borderDash: solid ? [] : [18, 6],
        pointRadius: 0,
        tension: 0,
      };
    };
    const stroke = (label: string, data: any[], color: string, dash: number[], w: number) => ({
      type: "line",
      label,
      order: 1,
      data,
      borderColor: color,
      borderWidth: w,
      borderDash: dash,
      borderCapStyle: dash.length ? "butt" : "round",
      pointRadius: 0,
      tension: 0,
    });

    const chart = new Chart(canvas, {
      type: "bar",
      data: {
        datasets: [
          ...levelValues.map(thinLine),
          {
            type: "line",
            label: "future",
            order: 5,
            data: [{ x: futureIndex, y: 1788 }, { x: futureIndex, y: 2037 }],
            borderColor: "#ff0000",
            borderWidth: 1.3,
            pointRadius: 0,
          },
          {
            label: "wicks",
            order: 4,
            grouped: false,
            data: allBars.map((b, i) => ({ x: i, y: [b[3], b[2]] })),
            backgroundColor: "#000",
            borderWidth: 0,
            barPercentage: 0.3125,
            categoryPercentage: 1,
            maxBarThickness: 1.25,
          },
          {
            label: "bodies",
            order: 3,
            grouped: false,
            data: allBars.map((b, i) => {
              const lo = Math.min(b[0], b[1]);
              const hi = Math.max(b[0], b[1]);
              return { x: i, y: hi - lo < 0.2 ? [lo - 0.1, hi + 0.1] : [lo, hi] };
            }),
            backgroundColor: allBars.map((b) => (b[1] >= b[0] ? "#ffffff" : "#000000")),
            borderColor: "#000",
            borderWidth: 1,
            borderSkipped: false,
            barPercentage: 0.75,
            categoryPercentage: 1,
            maxBarThickness: 3,
          },
          stroke("waveUpA", waveUpA, BLUE, [], 6),
          stroke("waveUpB", waveUpB, BLUE, [], 6),
          stroke("forecastUp", forecastUp, RED, [20, 7], 7),
          stroke("forecastDownA", forecastDownA, RED, [20, 7], 7),
          stroke("forecastDownB", forecastDownB, RED, [], 7),
          stroke("forecastDownC", forecastDownC, RED, [20, 7], 7),
        ] as any,
      },
      plugins: [overlay],
      options: {
        responsive: false,
        animation: false,
        devicePixelRatio: 1,
        layout: { padding: { left: 4, top: 4, right: 0, bottom: 0 } },
        plugins: { legend: { display: false }, tooltip: { enabled: false }, title: { display: false } },
        events: [],
        scales: {
          x: {
            type: "linear",
            offset: false,
            min: X_MIN,
            max: X_MAX,
            grid: {
              offset: false,
              color: "#c0c0c0",
              tickColor: (c: any) => (c.index % 2 === 0 && c.index < dateLabels.length * 2 ? "#000" : "rgba(0,0,0,0)"),
              tickLength: 4,
            },
            border: { dash: [4, 3], display: false },
            afterBuildTicks: (s: any) => {
              const t = [];
              for (let v = 0; v <= 928; v += 16) t.push({ value: v });
              s.ticks = t;
            },
            afterFit: (s: any) => {
              s.height = 35;
              s.paddingLeft = 0;
              s.paddingRight = 0;
            },
            ticks: {
              autoSkip: false,
              maxRotation: 0,
              minRotation: 0,
              align: "start",
              padding: 4,
              color: "#000",
              font: { family: FONT, size: 18 },
              callback: (v: any) => (v % 32 === 0 ? dateLabels[v / 32] ?? "" : ""),
            },
          },
          y: {
            type: "linear",
            position: "right",
            min: 1788.9,
            max: 2036.18,
            grid: { color: "#c0c0c0", tickColor: "#000", tickLength: 4 },
            border: { dash: [4, 3], display: false },
            afterBuildTicks: (s: any) => {
              s.ticks = priceTicks.map((value) => ({ value }));
            },
            afterFit: (s: any) => {
              s.width = 93;
              s.paddingTop = 0;
              s.paddingBottom = 0;
            },
            ticks: {
              autoSkip: false,
              padding: 5,
              color: "#000",
              font: { family: FONT, size: 18 },
              callback: (v: any) => Number(v).toFixed(2),
            },
          },
        },
      } as any,
    });
    return () => chart.destroy();
  }, []);

  return (
    <div style={{ position: "absolute", left: 0, top: 0, width: 3840, height: 1996 }}>
      <canvas ref={ref} width={3840} height={1996} style={{ display: "block", width: 3840, height: 1996 }} />
    </div>
  );
}
